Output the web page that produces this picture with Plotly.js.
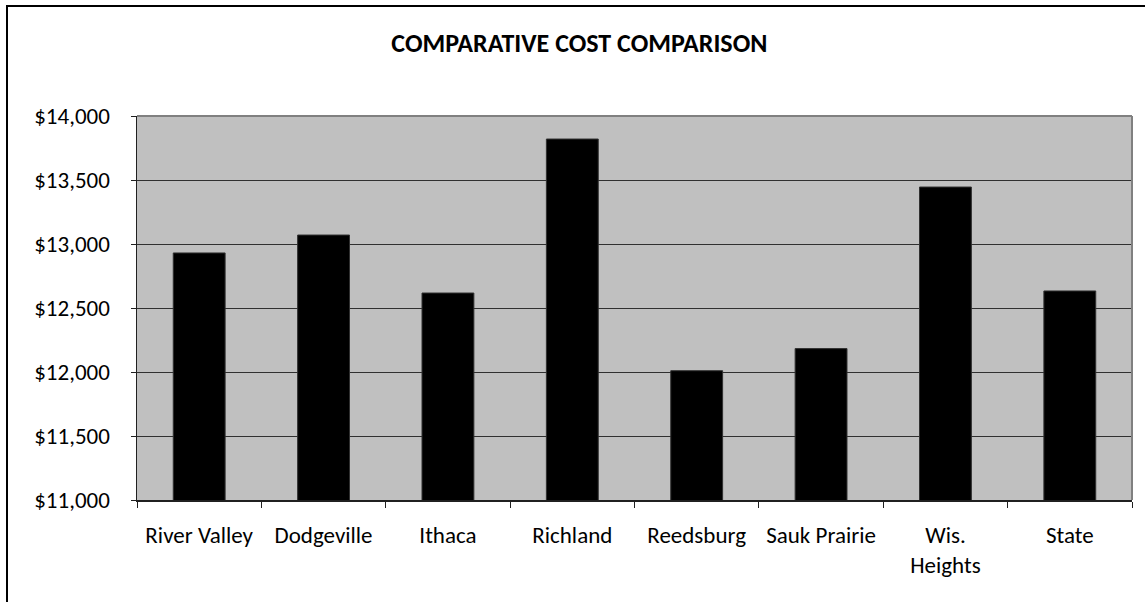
<!DOCTYPE html>
<html>
<head>
<meta charset="utf-8">
<script src="https://cdn.plot.ly/plotly-3.0.1.min.js"></script>
<style>
  html, body { margin: 0; padding: 0; background: #ffffff; }
  #wrap { position: relative; width: 1145px; height: 602px; overflow: hidden; }
  #chart { position: absolute; left: 0; top: 0; width: 1145px; height: 602px; }
  #frame {
    position: absolute; left: 6px; top: 5px; width: 1150px; height: 610px;
    border-left: 2px solid #000; border-top: 2px solid #000;
    pointer-events: none;
  }
</style>
</head>
<body>
<div id="wrap">
  <div id="chart"></div>
  <div id="frame"></div>
</div>
<script>
// Per-district cost figures
const districts = ["River Valley", "Dodgeville", "Ithaca", "Richland", "Reedsburg", "Sauk Prairie", "Wis.<br>Heights", "State"];
const costs = [12930, 13070, 12617, 13820, 12010, 12183, 13445, 12633];
const yTickValues = [11000, 11500, 12000, 12500, 13000, 13500, 14000];
const yTickLabels = ["$11,000", "$11,500", "$12,000", "$12,500", "$13,000", "$13,500", "$14,000"];
const chartTitle = "COMPARATIVE COST COMPARISON";

const FONT = "Carlito, Lato, 'Liberation Sans', sans-serif";

const trace = {
  type: "bar",
  x: districts,
  y: costs,
  marker: { color: "#000000", line: { color: "#303030", width: 1 } },
  hoverinfo: "x+y"
};

const layout = {
  width: 1145,
  height: 602,
  margin: { l: 137, r: 13, t: 116, b: 102 },
  paper_bgcolor: "rgba(0,0,0,0)",
  plot_bgcolor: "#c0c0c0",
  showlegend: false,
  bargap: 0.583,
  title: {
    text: "<b>" + chartTitle + "</b>",
    font: { family: FONT, size: 26, color: "#000000" },
    x: 0.506, xref: "container", xanchor: "center",
    y: 1 - 43 / 602, yref: "container", yanchor: "middle"
  },
  xaxis: {
    type: "category",
    tickson: "boundaries",
    ticks: "outside",
    ticklen: 6,
    tickcolor: "#202020",
    tickwidth: 1,
    showline: true,
    linecolor: "#202020",
    linewidth: 1.5,
    showgrid: false,
    tickfont: { family: FONT, size: 23, color: "#000000" },
    ticklabelstandoff: 14,
    fixedrange: true
  },
  yaxis: {
    range: [11000, 14000],
    tickmode: "array",
    tickvals: yTickValues,
    ticktext: yTickLabels,
    ticks: "outside",
    ticklen: 5,
    tickcolor: "#202020",
    tickwidth: 1,
    showline: true,
    linecolor: "#202020",
    linewidth: 1.5,
    showgrid: true,
    gridcolor: "#303030",
    gridwidth: 1,
    zeroline: false,
    tickfont: { family: FONT, size: 23, color: "#000000" },
    ticklabelstandoff: 16,
    fixedrange: true
  },
  shapes: [
    // grey frame on the top and right edges of the plotting area
    { type: "line", xref: "paper", yref: "paper", x0: 0, x1: 1, y0: 1, y1: 1,
      line: { color: "#808080", width: 2 }, layer: "above" },
    { type: "line", xref: "paper", yref: "paper", x0: 1, x1: 1, y0: 0, y1: 1,
      line: { color: "#808080", width: 2 }, layer: "above" }
  ]
};

Plotly.newPlot("chart", [trace], layout, { displayModeBar: false, staticPlot: true });
</script>
</body>
</html>
